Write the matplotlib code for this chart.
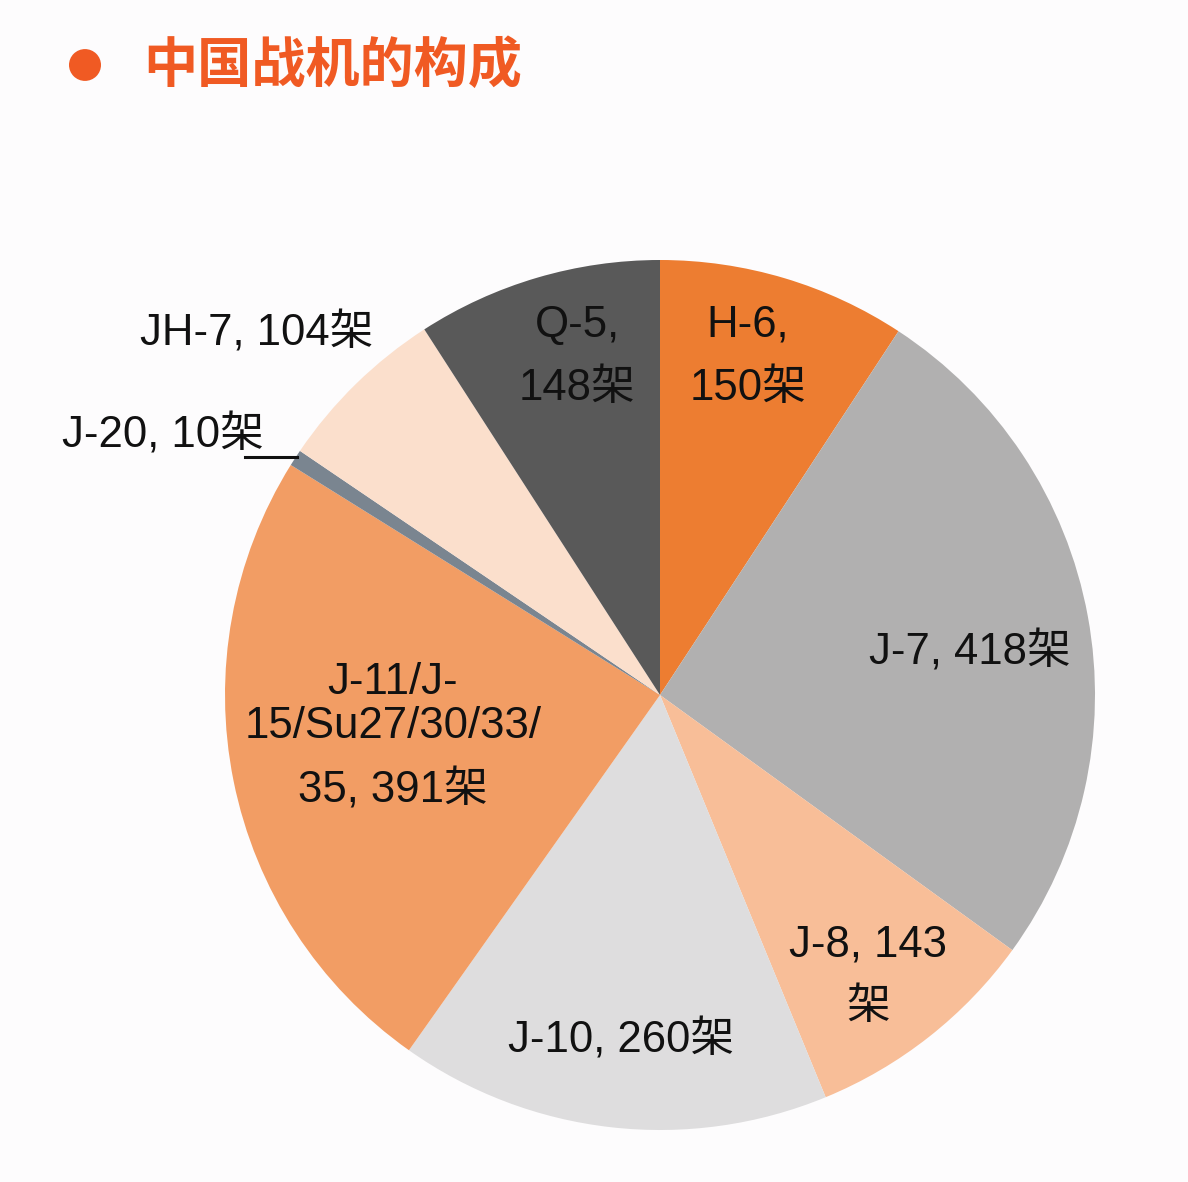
import matplotlib
matplotlib.use("Agg")
import matplotlib.pyplot as plt
from matplotlib.patches import Circle
from matplotlib.lines import Line2D

# ---- data ----
categories = ["H-6", "J-7", "J-8", "J-10", "J-11/J-15/Su27/30/33/35", "J-20", "JH-7", "Q-5"]
counts = [150, 418, 143, 260, 391, 10, 104, 148]
label_lines = [["H-6,", "150架"], ["J-7, 418架"], ["J-8, 143", "架"], ["J-10, 260架"],
               ["J-11/J-", "15/Su27/30/33/", "35, 391架"], ["J-20, 10架"], ["JH-7, 104架"],
               ["Q-5,", "148架"]]
colors = ["#ED7D31", "#B1B0B0", "#F8BE98", "#DEDDDE", "#F29D64", "#7A8590", "#FBDFCC", "#595959"]
title = "中国战机的构成"

# label layout: x centre (px) and line-centre y values (px) -- layout only
label_x = [748, 970, 868, 621, 393, 163, 257, 577]
label_y = [[325, 388], [652], [945, 1008], [1040], [682, 727, 790], [435], [333], [325, 388]]

FONT = ["Liberation Sans", "Noto Sans CJK SC", "DejaVu Sans"]
plt.rcParams["font.family"] = FONT

W, H = 1188, 1182
fig = plt.figure(figsize=(W / 100, H / 100), dpi=100)
fig.patch.set_facecolor("#FDFCFD")

cx, cy, R = 660, 695, 435
ax = fig.add_axes([(cx - R) / W, (H - cy - R) / H, 2 * R / W, 2 * R / H])
ax.pie(counts, colors=colors, startangle=90, counterclock=False, radius=1.0,
       wedgeprops=dict(linewidth=0))
ax.set_xlim(-1, 1)
ax.set_ylim(-1, 1)
ax.set_aspect("equal")
ax.axis("off")


def px(x, y):
    return (x - cx) / R, (cy - y) / R


for lines, x, ys in zip(label_lines, label_x, label_y):
    for line, y in zip(lines, ys):
        dx, dy = px(x, y)
        ax.text(dx, dy, line, ha="center", va="center", fontsize=31.5, color="#111111",
                family=FONT, clip_on=False)

# leader line for J-20
x0, y0 = px(245, 457)
x1, y1 = px(297, 457)
ax.add_line(Line2D([x0, x1], [y0, y1], color="#111111", lw=2.2, clip_on=False))

# title
fig.patches.append(Circle((85 / W, 1 - 65 / H), 16 / W, transform=fig.transFigure,
                          facecolor="#F05A23", edgecolor="none"))
fig.text(143 / W, 1 - 66 / H, title, ha="left", va="center", fontsize=39, color="#F05A23",
         family=["Noto Sans CJK SC"], fontweight="bold")

fig.savefig("out.png", dpi=100, facecolor=fig.get_facecolor())
